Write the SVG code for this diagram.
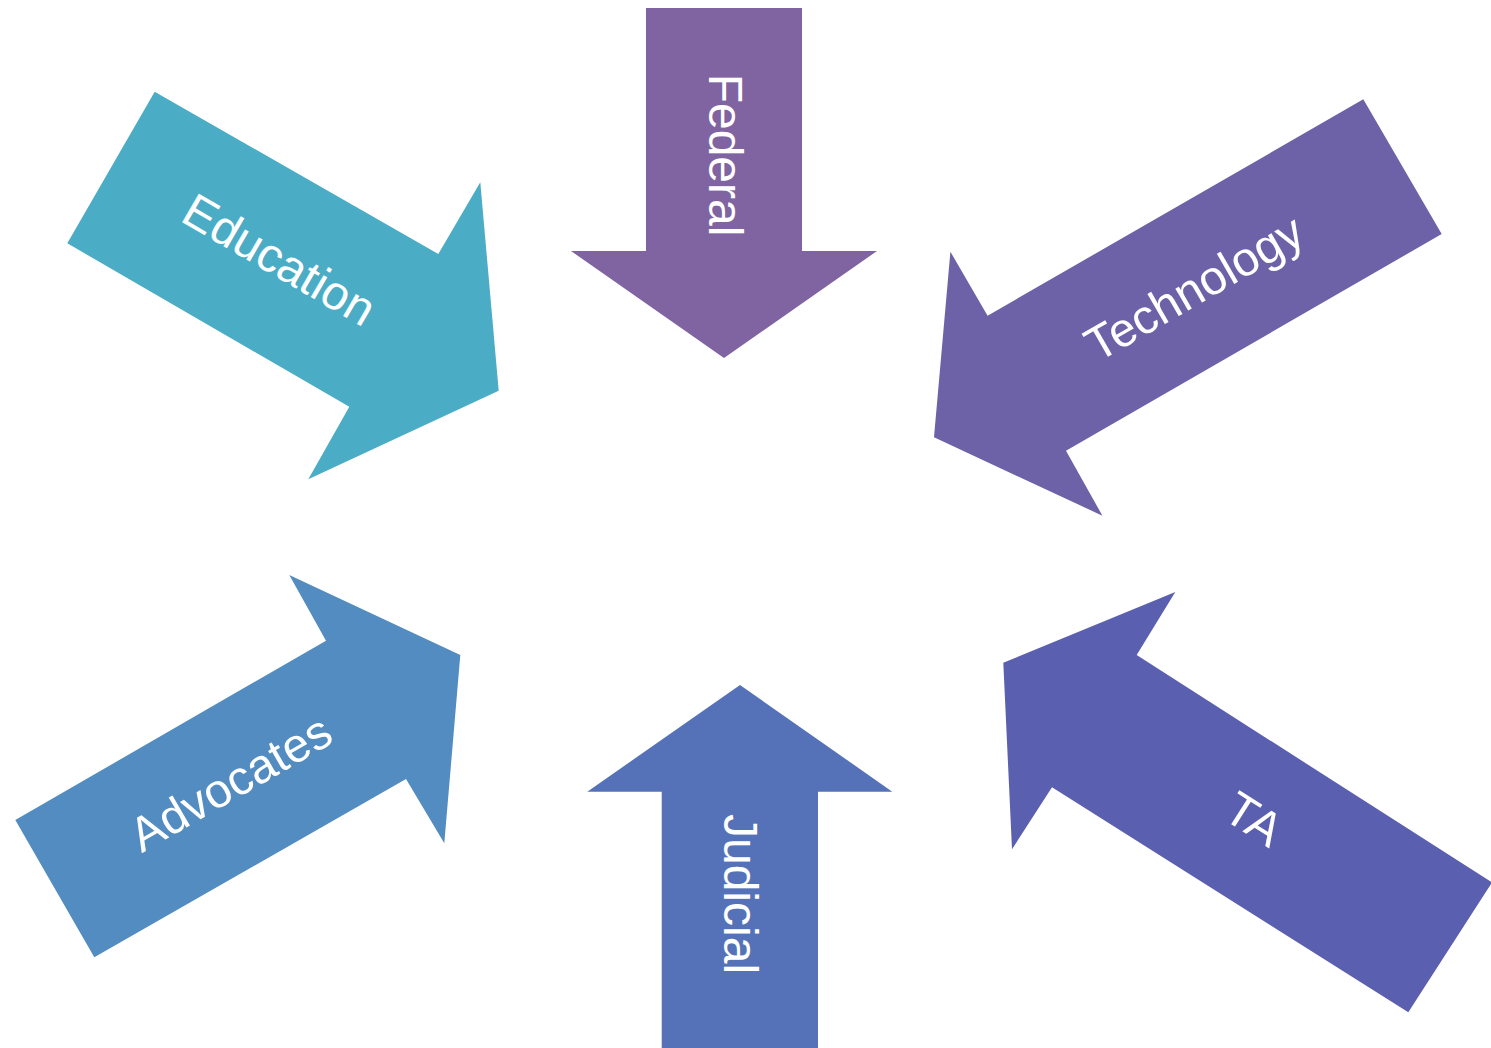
<svg xmlns="http://www.w3.org/2000/svg" width="1491" height="1048" viewBox="0 0 1491 1048">
  <style>
    .label { font-family: "Liberation Sans", Arial, sans-serif; font-size: 48px; fill: #ffffff; text-anchor: middle; }
  </style>
  <rect width="1491" height="1048" fill="#ffffff"/>

  <!-- Block arrows pointing inward toward the centre -->
  <g id="federal">
    <polygon points="646,8 802,8 802,251 877,251 724,358 571,251 646,251" fill="#8064a2"/>
    <text class="label" transform="translate(709,155) rotate(90)">Federal</text>
  </g>

  <g id="education">
    <polygon points="154.7,91.7 438.3,254 480.3,182.3 498.7,390.7 308.3,479.3 349.3,406.7 67.3,243.3" fill="#4bacc6"/>
    <text class="label" transform="translate(271,274) rotate(30.2)">Education</text>
  </g>

  <g id="technology">
    <polygon points="1363.3,99.3 1441.7,234 1066,450.7 1102.4,515.7 934,437.3 950.4,251.7 987.6,315.7" fill="#6d61a8"/>
    <text class="label" transform="translate(1202.5,302.3) rotate(-30)">Technology</text>
  </g>

  <g id="advocates">
    <polygon points="15.3,820 326,640.7 289.3,575 460.3,655 444.3,843.3 406,779 94.3,957.3" fill="#528cc0"/>
    <text class="label" transform="translate(238.7,797.3) rotate(-30)">Advocates</text>
  </g>

  <g id="judicial">
    <polygon points="740,685 892.3,791.7 818,791.7 818,1060 661.7,1060 661.7,791.7 587.3,791.7" fill="#5572b9"/>
    <text class="label" transform="translate(724,894) rotate(90)">Judicial</text>
  </g>

  <g id="ta">
    <polygon points="1175.3,592 1136.7,655 1492,882.5 1408.3,1012.3 1052,787.3 1012,849.3 1003.3,662.7" fill="#5a5faf"/>
    <text class="label" transform="translate(1245,833) rotate(32.5)">TA</text>
  </g>
</svg>
